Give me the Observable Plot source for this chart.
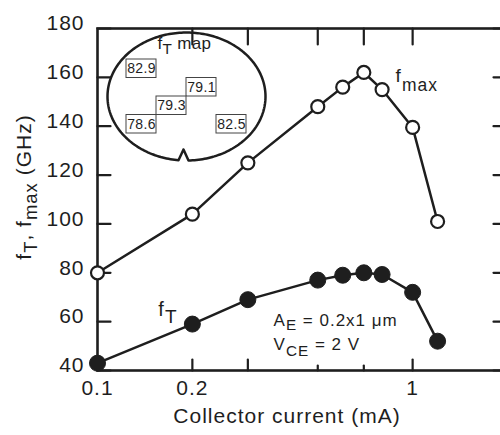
<!DOCTYPE html>
<html>
<head>
<meta charset="utf-8">
<script src="https://cdn.jsdelivr.net/npm/d3@7"></script>
<script src="https://cdn.jsdelivr.net/npm/@observablehq/plot@0.6"></script>
<style>
html, body { margin: 0; padding: 0; background: #fff; overflow: hidden; width: 500px; height: 435px; }
#wrap { position: relative; width: 500px; height: 435px; overflow: hidden; }
#main svg { letter-spacing: 1px; max-width: none !important; }
#inset { position: absolute; left: 101px; top: 26px; }
#inset svg { letter-spacing: 0.3px; max-width: none !important; }
</style>
</head>
<body>
<div id="wrap"><div id="main"></div><div id="inset"></div></div>
<script>
// ---- data ----
const current = [0.1, 0.2, 0.3, 0.5, 0.6, 0.7, 0.8, 1.0, 1.2];          // mA
const fmax    = [80, 104, 125, 148, 156, 162, 155, 139.5, 101];           // GHz
const fT      = [43, 59, 69, 77, 79, 80, 79.3, 72, 52];                    // GHz

const xTickLabels = [0.1, 0.2, 0.5, 1];
const xTicksBottomLong = [0.2, 0.3, 1];
const xTicksBottomShort = [0.5, 0.7];
const xTicksTop = [0.2, 0.3, 0.5, 0.7, 1];
const yTicks = [40, 60, 80, 100, 120, 140, 160, 180];

const xLabel = "Collector current (mA)";
const yLabel = "f_{T}, f_{max} (GHz)";
const fmaxLabel = "f_{max}";
const fTLabel = "f_{T}";
const notes = ["A_{E} = 0.2x1 μm", "V_{CE} = 2 V"];
const noteX = [0.362, 0.362];
const noteY = [58.4, 48.2];

// inset ft map
const mapTitle = "f_{T} map";
const mapValues = ["82.9", "79.1", "79.3", "78.6", "82.5"];
const mapCol = [0, 2, 1, 0, 3];
const mapRow = [0, 1, 2, 3, 3];

// ---- build ----
const ink = "#1e1e1e";
const FONT = "'Liberation Sans', Arial, Helvetica, sans-serif";
const rows = current.map((c, i) => ({c, fmax: fmax[i], fT: fT[i]}));

const subStyle = {
  "f_{T}, f_{max} (GHz)": [0.88, 0.3],
  "f_{max}": [0.92, 0.5],
  "f_{T}": [0.95, 0.38],
  "A_{E} = 0.2x1 μm": [0.9, 0.27],
  "V_{CE} = 2 V": [0.9, 0.3],
  "f_{T} map": [0.9, 0.3]
};
function subscriptify(svg) {
  svg.querySelectorAll("text").forEach(el => {
    const t = el.textContent;
    if (!t.includes("_{")) return;
    const [k, s] = subStyle[t] || [0.8, 0.3];
    el.textContent = "";
    const parts = t.split(/(_\{[^}]*\})/).filter(Boolean);
    let down = false;
    for (const p of parts) {
      const ts = document.createElementNS("http://www.w3.org/2000/svg", "tspan");
      if (p.startsWith("_{")) {
        ts.textContent = p.slice(2, -1);
        ts.setAttribute("font-size", `${k}em`);
        ts.setAttribute("dy", `${s / k}em`);
        down = true;
      } else {
        ts.textContent = p;
        if (down) ts.setAttribute("dy", `${-s}em`);
        down = false;
      }
      el.appendChild(ts);
    }
  });
}

const fmt = d3.format("~g");
const X0 = 0.1, X1 = 2, Y0 = 40, Y1 = 180;
const W = 510, H = 435, ML = 97, MT = 28, MB = 65, MR = 3;
const FW = W - ML - MR, FH = H - MT - MB;
// pixel tick lengths converted to scale units (log x, linear y)
const yPerPx = (Y1 - Y0) / FH;
const xFactor = px => Math.pow(X1 / X0, px / FW);

const tickSegs = [];
let k = 0;
for (const v of xTicksBottomLong) { tickSegs.push({x: v, y: Y0, k}, {x: v, y: Y0 + 11 * yPerPx, k}); k++; }
for (const v of xTicksBottomShort) { tickSegs.push({x: v, y: Y0, k}, {x: v, y: Y0 + 5 * yPerPx, k}); k++; }
for (const v of xTicksTop) { tickSegs.push({x: v, y: Y1, k}, {x: v, y: Y1 - 16 * yPerPx, k}); k++; }
for (const v of yTicks) { tickSegs.push({x: X0, y: v, k}, {x: X0 * xFactor(13), y: v, k}); k++; }
for (const v of yTicks) { tickSegs.push({x: X1, y: v, k}, {x: X1 / xFactor(14), y: v, k}); k++; }

const chart = Plot.plot({
  width: W,
  height: H,
  marginLeft: ML,
  marginTop: MT,
  marginBottom: MB,
  marginRight: MR,
  style: {fontFamily: FONT, fontSize: "21px", color: ink, background: "transparent"},
  x: {type: "log", domain: [X0, X1]},
  y: {domain: [Y0, Y1]},
  marks: [
    Plot.frame({fill: "none", stroke: ink, strokeWidth: 2.6}),
    Plot.axisX(xTickLabels, {anchor: "bottom", tickSize: 0, tickPadding: 10, tickFormat: fmt, fill: ink, fontSize: 21, label: null}),
    Plot.axisY(yTicks, {anchor: "left", tickSize: 0, tickPadding: 13, dy: -5, fill: ink, fontSize: 21, label: null}),
    Plot.line(tickSegs, {x: "x", y: "y", z: "k", stroke: ink, strokeWidth: 2.2}),
    Plot.line(rows, {x: "c", y: "fmax", stroke: ink, strokeWidth: 2.5}),
    Plot.line(rows, {x: "c", y: "fT", stroke: ink, strokeWidth: 2.5}),
    Plot.dot(rows, {x: "c", y: "fmax", r: 6.5, fill: "white", stroke: ink, strokeWidth: 2.2}),
    Plot.dot(rows, {x: "c", y: "fT", r: 8, fill: ink, stroke: ink, strokeWidth: 1}),
    Plot.text([fmaxLabel], {x: 0.883, y: 158.3, text: d => d, textAnchor: "start", lineAnchor: "bottom", fontSize: 19, fill: ink}),
    Plot.text([fTLabel], {x: 0.156, y: 62.5, text: d => d, textAnchor: "start", lineAnchor: "bottom", fontSize: 20, fill: ink}),
    Plot.text(notes, {x: (d, i) => noteX[i], y: (d, i) => noteY[i], text: d => d, textAnchor: "start", lineAnchor: "bottom", fontSize: 17, fill: ink}),
    Plot.text([xLabel], {frameAnchor: "bottom", dx: -15.5, dy: 52, text: d => d, lineAnchor: "bottom", fontSize: 21, fill: ink}),
    Plot.text([yLabel], {frameAnchor: "left", rotate: -90, dx: -67, dy: -12.5, text: d => d, lineAnchor: "bottom", textAnchor: "middle", fontSize: 21, fill: ink})
  ]
});
subscriptify(chart);
document.getElementById("main").appendChild(chart);

// ---- inset wafer map ----
const CELL_W = 30, CELL_H = 18.5, RX = 79, RY = 64;
const ovalPts = [];
const a0 = Math.PI / 2 + Math.asin(8 / RX);
const a1 = Math.PI / 2 - Math.asin(2 / RX) + 2 * Math.PI;
for (let i = 0; i <= 240; i++) {
  const t = a0 + (a1 - a0) * i / 240;
  ovalPts.push({x: RX * Math.cos(t) / CELL_W, y: RY * Math.sin(t) / CELL_H});
}
ovalPts.push({x: -3 / CELL_W, y: 53 / CELL_H});
ovalPts.push(ovalPts[0]);

const cells = mapValues.map((v, i) => ({v, col: mapCol[i], row: mapRow[i]}));

const inset = Plot.plot({
  width: 170,
  height: 140,
  margin: 6,
  style: {fontFamily: FONT, color: ink, background: "transparent"},
  x: {domain: [-RX / CELL_W, RX / CELL_W], axis: null},
  y: {domain: [-RY / CELL_H, RY / CELL_H], axis: null, reverse: true},
  marks: [
    Plot.line(ovalPts, {x: "x", y: "y", stroke: ink, strokeWidth: 2.5}),
    Plot.rect(cells, {x1: d => d.col - 2, x2: d => d.col - 1, y1: d => d.row - 2, y2: d => d.row - 1, fill: "white", stroke: "#444", strokeWidth: 1}),
    Plot.text(cells, {x: d => d.col - 1.5, y: d => d.row - 1.5, text: "v", fontSize: 14, fill: ink}),
    Plot.text([mapTitle], {x: -29 / CELL_W, y: -48 / CELL_H, text: d => d, textAnchor: "start", lineAnchor: "bottom", fontSize: 17, fill: ink})
  ]
});
subscriptify(inset);
document.getElementById("inset").appendChild(inset);
</script>
</body>
</html>
